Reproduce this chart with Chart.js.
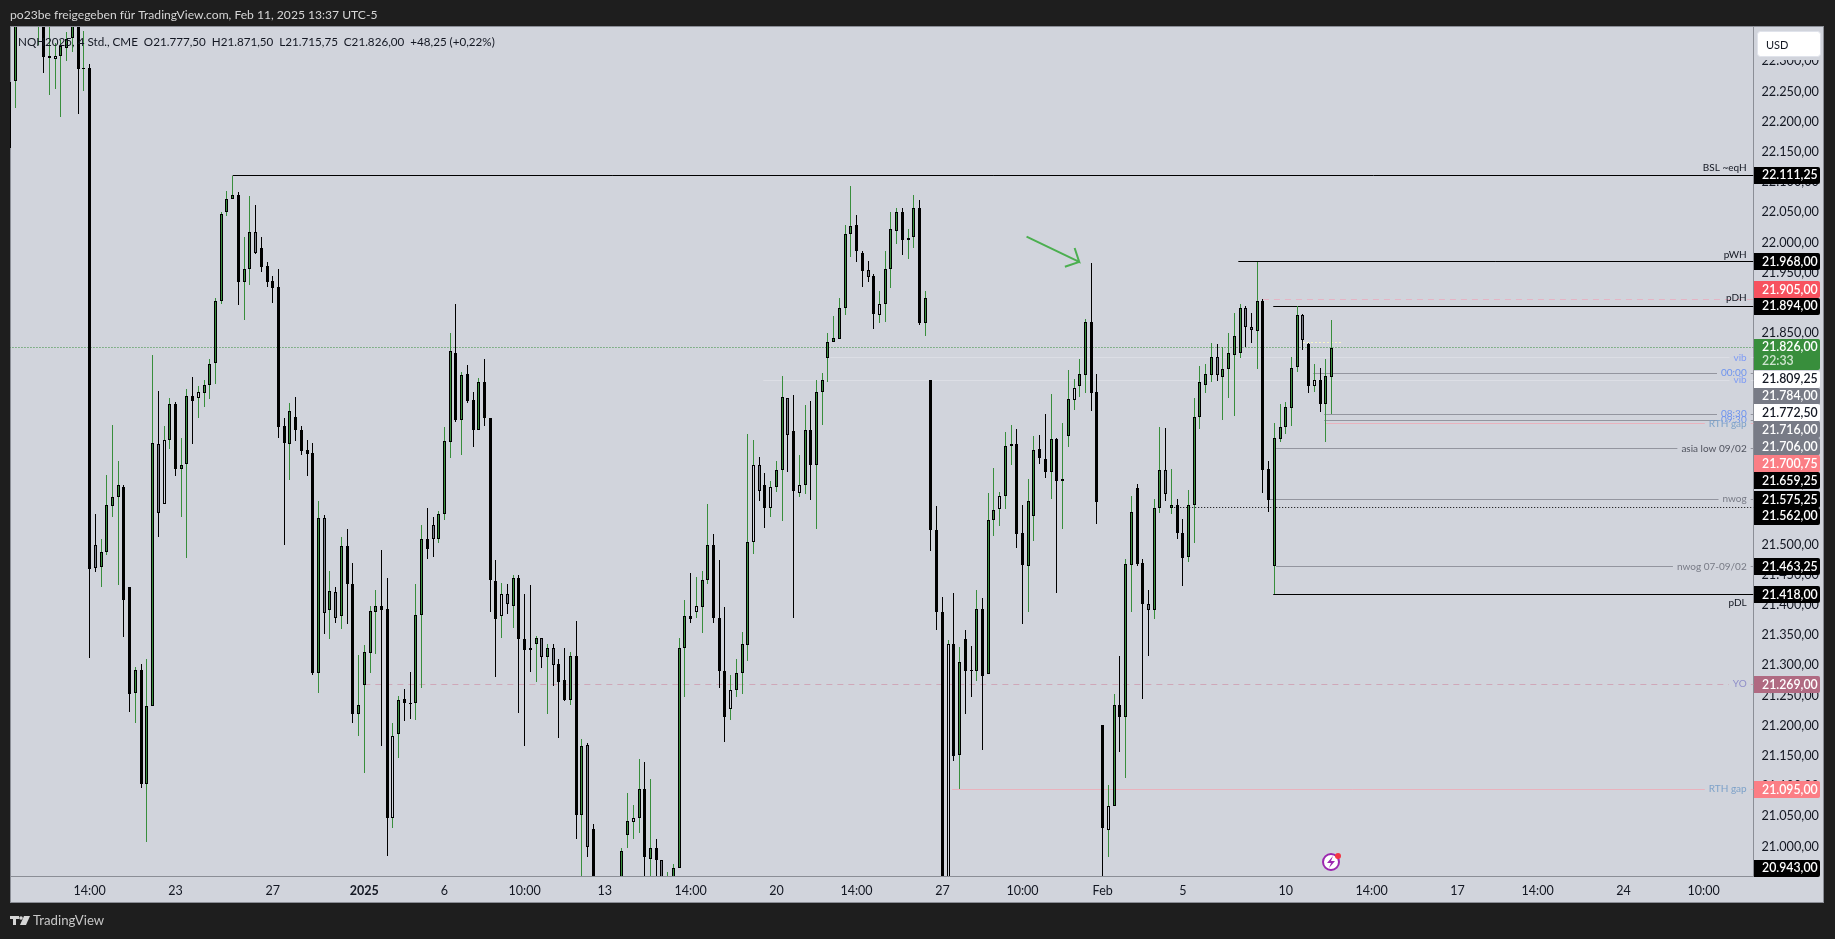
<!DOCTYPE html>
<html>
<head>
<meta charset="utf-8">
<title>NQH2025</title>
<script src="https://cdn.jsdelivr.net/npm/chart.js@4/dist/chart.umd.min.js"></script>
<style>
html, body { margin: 0; padding: 0; background: #1e1e1e; overflow: hidden; }
canvas { display: block; }
</style>
</head>
<body>
<canvas id="chart" width="1835" height="939"></canvas>
<script>
// candles, left to right. null = bar sits completely outside the visible price range
const opens = [22266,22267,null,null,null,22365,22380,22306,22304,22309,22323,22338,22380,22287,
22289,21500,21463,21487,21564,21578,21596,21430,21255,21293,21104,21232,21666,21567,21674,21732,
21625,21633,21746,21743,21751,21765,21800,21904,22050,22073,22078,21934,21957,22017,21991,21962,
21936,21926,21696,21667,21711,21690,21656,21652,21288,21544,21391,21421,21381,21497,21434,21220,
21268,21321,21389,21398,21393,21048,21187,21244,21238,21238,21383,21510,21532,21510,21550,21670,
21818,21707,21782,21739,21690,21769,21710,21439,21381,21419,21399,21444,21343,21328,21335,21345,
21314,21328,21303,21275,21243,21316,21053,21169,21029,null,null,null,null,20900,21020,21041,21047,
21095,20980,20998,20977,20900,20900,20965,21328,21381,21389,21397,21441,21499,21378,21290,21227,
21259,21288,21334,21505,21632,21599,21561,21596,21624,21742,21688,21586,21599,21689,21631,21753,
21809,21835,21841,21891,22014,22029,21982,21954,21944,21880,21898,21956,22019,22050,22004,22009,
22058,21867,21773,21524,21389,20900,21335,21152,21343,21292,21290,21393,21285,21540,21559,21580,
21663,21666,21519,21464,21548,21658,21641,21620,21675,21606,21680,21740,21762,21781,21868,21753,
21201,21028,21068,21234,21215,21467,21593,21469,21401,21391,21560,21623,21561,21565,21519,21480,
21565,21711,21765,21781,21810,21778,21790,21814,21818,21891,21861,21854,21904,21625,21464,21675,
21695,21726,21794,21880,21832,21763,21772,21733,21777.5];
const closes = [22157,22400,null,null,null,22380,22307,22309,22309,22325,22337,22370,22288,22289,
21459,21462,21487,21565,21578,21598,21409,21253,21293,21104,21232,21668,21553,21674,21732,21625,
21631,21746,21737,21752,21765,21799,21904,22047,22073,22078,21934,21957,22017,21983,21960,21935,
21925,21695,21668,21721,21689,21655,21650,21288,21544,21387,21423,21379,21497,21435,21220,21234,
21323,21390,21398,21391,21048,21183,21242,21237,21236,21383,21510,21493,21510,21550,21671,21820,
21706,21780,21738,21690,21769,21710,21441,21376,21419,21401,21444,21344,21326,21326,21345,21314,
21328,21301,21273,21243,21316,21053,21167,20999,20900,null,null,null,null,20992,21043,21047,21095,
20982,20998,20977,20900,20930,20965,21328,21381,21376,21399,21441,21499,21379,21290,21214,21259,
21288,21335,21505,21632,21589,21561,21595,21624,21744,21682,21588,21599,21689,21631,21753,21773,
21835,21842,21891,22014,22027,21986,21953,21943,21881,21898,21956,22022,22050,22004,22007,22058,
21867,21908,21524,21389,20900,21335,21150,21305,21291,21291,21393,21283,21540,21558,21580,21663,
21666,21518,21467,21573,21656,21643,21621,21675,21606,21609,21741,21760,21782,21868,21751,21571,
21030,21067,21234,21215,21468,21554,21468,21401,21391,21560,21623,21583,21565,21520,21478,21565,
21711,21770,21782,21810,21780,21790,21817,21845,21891,21861,21855,21904,21624,21574,21676,21694,
21727,21792,21880,21838,21763,21772,21733,21779,21826];
const highs = [22266,22420,null,null,null,22400,22400,22380,22330,22335,22349,22390,22400,22351,
22296,21551,21509,21615,21698,21638,21599,21430,21297,21302,21310,21814,21754,21696,21743,21736,
21676,21758,21777,21763,21772,21807,21908,22051,22085,22111,22084,22009,22077,22062,22009,21968,
21945,21956,21709,21734,21744,21696,21674,21668,21572,21549,21456,21430,21513,21525,21470,21317,
21334,21398,21425,21491,21445,21205,21250,21261,21289,21435,21532,21560,21546,21556,21694,21850,
21898,21786,21797,21753,21775,21807,21710,21475,21437,21435,21449,21449,21419,21433,21349,21345,
21335,21335,21311,21328,21322,21373,21178,21172,21037,null,null,null,null,20997,21089,21069,21145,
21140,21112,21013,20977,20958,20972,21345,21408,21453,21447,21457,21568,21518,21475,21397,21284,
21311,21356,21683,21673,21645,21619,21605,21638,21779,21742,21748,21648,21731,21738,21772,21784,
21850,21878,21908,22029,22094,22045,21986,21970,21948,21920,21986,22051,22058,22058,22022,22079,
22071,21920,21773,21564,21413,21342,21420,21331,21358,21332,21425,21412,21586,21627,21587,21686,
21698,21692,21566,21609,21679,21681,21716,21749,21676,21701,21789,21774,21808,21873,21966,21782,
21201,21102,21253,21316,21476,21580,21600,21476,21425,21576,21695,21693,21625,21576,21542,21591,
21743,21795,21799,21833,21832,21827,21850,21883,21899,21895,21883,21968,21906,21638,21702,21733,
21736,21811,21895,21881,21833,21799,21792,21807,21871.5];
const lows = [22157,22223,null,null,null,22327,22281,22245,22254,22208,22301,22316,22213,22251,
21313,21455,21429,21483,21546,21433,21347,21223,21205,21097,21008,21232,21513,21567,21658,21614,
21546,21478,21667,21710,21728,21741,21766,21899,22044,22073,21896,21872,21929,21981,21952,21927,
21900,21677,21500,21607,21672,21648,21614,21284,21255,21352,21344,21371,21360,21369,21205,21183,
21122,21288,21319,21167,20985,21030,21146,21208,21212,21210,21263,21476,21479,21503,21541,21644,
21703,21648,21735,21662,21690,21697,21389,21281,21346,21385,21362,21222,21167,21289,21272,21295,
21219,21266,21179,21241,21235,21012,20930,20982,20890,null,null,null,null,20890,20998,21013,21023,
20930,20930,20930,20890,20890,20890,20965,21248,21371,21379,21354,21434,21371,21263,21173,21209,
21248,21252,21308,21484,21572,21528,21546,21587,21539,21621,21379,21579,21584,21574,21526,21698,
21770,21835,21841,21880,21976,21968,21927,21935,21857,21867,21869,21925,21997,21980,21973,21991,
21864,21846,21490,21359,20890,20890,21141,21095,21220,21248,21274,21160,21285,21514,21531,21559,
21631,21494,21368,21389,21506,21633,21611,21576,21420,21525,21662,21723,21744,21751,21721,21534,
20920,20982,21068,21157,21114,21389,21464,21244,21315,21376,21552,21573,21551,21510,21432,21471,
21503,21692,21751,21769,21771,21707,21742,21713,21809,21827,21834,21791,21585,21554,21418,21670,
21683,21697,21785,21822,21751,21753,21720,21670,21715.75];
// u up, d down, h up inside bar, g down inside bar
const barTypes = ("d u n n n u d u h u " +
"u u d u d g u u u u " + "d d u d u u g h u d " + "u u d h u u u u u u " +
"d u u g d d d d d u " + "d d d d u g u g u d " + "d u u u u d d h u d " +
"d u u d g u u u d u " + "d d u d d d h g u d " + "d d u g u g d d u d " +
"u g d n n n n u u h " + "u d u d g u u u u d " + "h u u d d d h u u u " +
"h g d h u u g d h u " + "d u u u u u u u d d " + "g d h u u u d u u d " +
"u d d d h d u d d u " + "d u u h u u d d u u " + "d d u d u u h u u d " +
"d d h u d u u d d g " + "u u g u d d u u u u " + "u g u u u u g g u d " +
"d u u u u u g d h d " + "u u").split(" ");

// horizontal levels drawn on the chart
const levelPrices = [22111.25,21968,21905,21894,21826,21809.25,21784,21772.5,21716,21706,21700.75,21659.25,21575.25,21562,21463.25,21418,21269,21095,21835];
const levelStarts = [39,214.7,219,220.8,0,143.4,227.8,131.7,229.7,229.7,230,221.3,220,203.5,221.3,220.8,62,164.7,226];
const levelTexts = ["BSL ~eqH","pWH","","pDH","","vib","00:00","vib","08:30","09:30","RTH gap","asia low 09/02","nwog","","nwog 07-09/02","pDL","YO","RTH gap",""];
const levelKinds = ["key","key","redDash","key","lastDot","white","gray","white","gray","gray","pink","gray","gray","blackDot","gray","key","yo","pink","yellowDot"];
const yellowDotEnd = 232.8;

// arrow that points at the Feb high
const arrowBars = [177.7,186.9,186.1,186.9,184.4];
const arrowPrices = [22010,21968,21991,21968,21960];

const yTicks = [21000,21050,21100,21150,21200,21250,21300,21350,21400,21450,21500,21550,21600,21650,21700,21750,21800,21850,21900,21950,22000,22050,22100,22150,22200,22250,22300];
const xTickBars = [14,29,46,62,76,90,104,119,134,148,163,177,191,205,223,238,253,267,282,296];
const xTickLabels = ["14:00","23","27","2025","6","10:00","13","14:00","20","14:00","27","10:00","Feb","5","10","14:00","17","14:00","24","10:00"];

// price tags on the right axis
const tagPrices = [22111.25,21968,21905,21894,21826,21809.25,21784,21772.5,21716,21706,21700.75,21659.25,21575.25,21562,21463.25,21418,21269,21095,20943];
const tagColors = ["#000000","#000000","#f7525f","#000000","#388e3c","#ffffff","#787b86","#ffffff","#787b86","#787b86","#fb7e85","#000000","#000000","#000000","#000000","#000000","#b06a82","#fb7e85","#000000"];
const countdown = "22:33";

const titleText = "po23be freigegeben für TradingView.com, Feb 11, 2025 13:37 UTC-5";
const legendText = "NQH2025, 4 Std., CME  O21.777,50  H21.871,50  L21.715,75  C21.826,00  +48,25 (+0,22%)";

const FONT = "Lato, 'Noto Sans', sans-serif";
const PANEL = "#d1d4dc";
const DARK = "#1e1e1e";
const GREEN = "#388e3c";
const priceFmt = new Intl.NumberFormat("de-DE", { minimumFractionDigits: 2, maximumFractionDigits: 2 });

const bodyColors = { u: GREEN, d: "#000000", h: PANEL, g: "#787b86" };
const wickColors = { u: GREEN, d: "#000000", h: GREEN, g: "#000000" };

const levelStyles = {
    key: { color: "#000000", dash: [] },
    redDash: { color: "#e5b4c4", dash: [6, 5] },
    lastDot: { color: GREEN, dash: [1, 2] },
    white: { color: "#dcdee5", dash: [] },
    gray: { color: "#93959f", dash: [] },
    pink: { color: "#e9b2bd", dash: [] },
    blackDot: { color: "#000000", dash: [1, 2] },
    yo: { color: "#cfa7b8", dash: [6, 5] },
    yellowDot: { color: "#f7f7c6", dash: [2, 2] }
};
const textColors = ["#131722","#131722","","#131722","","#7f9cf5","#6f94ee","#7f9cf5","#6f94ee","#6f94ee","#7ea2c9","#50535e","#787b86","","#787b86","#131722","#8f8fc9","#7ea2c9",""];
const tagY = [175,261.3,289.3,306,0,378.7,395.7,412.3,429.3,446.3,463.3,480.3,499.3,516,566.3,594.3,684.3,789.3,867.7];

const candleIdx = opens.map((o, i) => i).filter(i => opens[i] !== null);
const bodyData = candleIdx.map(i => ({ x: i, y: [opens[i], closes[i]], k: barTypes[i] }));
const wickData = candleIdx.map(i => ({ x: i, y: [lows[i], highs[i]], k: barTypes[i] }));

const X_MIN = 0.0926, X_MAX = 304.71;
const levelDatasets = levelPrices.map((p, i) => {
    const st = levelStyles[levelKinds[i]];
    const end = levelKinds[i] === "yellowDot" ? yellowDotEnd : X_MAX;
    return {
        type: "line",
        order: 3,
        data: [{ x: levelStarts[i], y: p }, { x: end, y: p }],
        borderColor: st.color,
        borderDash: st.dash,
        borderWidth: 1,
        pointRadius: 0,
        tension: 0
    };
});

// keeps bars and levels on whole pixels so they stay crisp like the original
const snapPlugin = {
    id: "snap",
    afterDatasetsUpdate(chart) {
        chart.data.datasets.forEach((ds, n) => {
            const meta = chart.getDatasetMeta(n);
            if (ds.noSnap) return;
            meta.data.forEach(el => {
                if (ds.type === "line") {
                    el.y = Math.floor(el.y) + 0.5;
                } else {
                    el.x = Math.floor(el.x) + 0.5;
                    const top = Math.round(Math.min(el.y, el.base));
                    let bottom = Math.round(Math.max(el.y, el.base));
                    if (bottom - top < 1) bottom = top + 1;
                    el.y = top;
                    el.base = bottom;
                }
            });
        });
    }
};

const framePlugin = {
    id: "frame",
    beforeDraw(chart) {
        const ctx = chart.ctx;
        ctx.save();
        ctx.fillStyle = DARK;
        ctx.fillRect(0, 0, 1835, 939);
        ctx.fillStyle = PANEL;
        ctx.fillRect(10, 27, 1814, 876);
        ctx.strokeStyle = "#8b8e96";
        ctx.lineWidth = 1;
        ctx.strokeRect(10.5, 26.5, 1813, 876);
        ctx.restore();
    }
};

const labelsPlugin = {
    id: "labels",
    afterDatasetsDraw(chart) {
        const ctx = chart.ctx, y = chart.scales.y;
        ctx.save();
        ctx.font = "10px " + FONT;
        ctx.textAlign = "right";
        ctx.textBaseline = "middle";
        levelTexts.forEach((t, i) => {
            if (!t) return;
            const py = y.getPixelForValue(levelPrices[i]);
            const w = ctx.measureText(t).width;
            const rx = 1746.7;
            let ty = py;
            if (t === "BSL ~eqH") ty = py - 8;
            else if (t === "pWH") ty = py - 7;
            else if (t === "pDH") ty = py - 9;
            else if (t === "pDL") ty = py + 9;
            else {
                ctx.fillStyle = PANEL;
                ctx.fillRect(rx - w - 4, py - 1, w + 8, 3);
            }
            ctx.fillStyle = textColors[i];
            ctx.fillText(t, rx, ty);
        });
        // legend row lies over the candles
        ctx.textAlign = "left";
        ctx.font = "11.65px " + FONT;
        ctx.fillStyle = "#131722";
        ctx.fillText(legendText, 18, 42);
        ctx.restore();
    }
};

function roundedTag(ctx, x, y, w, h) {
    ctx.beginPath();
    ctx.roundRect(x, y, w, h, [0, 2, 2, 0]);
    ctx.fill();
}

const tagsPlugin = {
    id: "tags",
    afterDraw(chart) {
        const ctx = chart.ctx;
        ctx.save();
        // USD button, its margin hides the top tick
        ctx.fillStyle = PANEL;
        ctx.fillRect(1755, 28, 68, 32);
        ctx.fillStyle = "#ffffff";
        ctx.strokeStyle = "#e0e3eb";
        ctx.beginPath();
        ctx.roundRect(1757.5, 31.5, 63, 25, 3);
        ctx.fill();
        ctx.stroke();
        ctx.fillStyle = "#131722";
        ctx.font = "11px " + FONT;
        ctx.textAlign = "left";
        ctx.textBaseline = "middle";
        ctx.fillText("USD", 1766, 45);

        ctx.font = "600 12.3px " + FONT;
        tagPrices.forEach((p, i) => {
            const c = tagColors[i];
            ctx.fillStyle = c;
            if (p === 21826) {
                roundedTag(ctx, 1754, 339, 66, 31);
                ctx.fillStyle = "#ffffff";
                ctx.fillText(priceFmt.format(p), 1762, 347);
                ctx.fillStyle = "#cfe5d0";
                ctx.fillText(countdown, 1762, 361);
                return;
            }
            roundedTag(ctx, 1754, Math.round(tagY[i]) - 8, 66, 17);
            ctx.fillStyle = c === "#ffffff" ? "#131722" : "#ffffff";
            ctx.fillText(priceFmt.format(p), 1762, tagY[i] + 0.5);
        });

        // lightning badge
        ctx.beginPath();
        ctx.arc(1331, 862, 8, 0, Math.PI * 2);
        ctx.fillStyle = "#ffffff";
        ctx.fill();
        ctx.lineWidth = 2;
        ctx.strokeStyle = "#9c27b0";
        ctx.stroke();
        ctx.beginPath();
        ctx.moveTo(1333, 856);
        ctx.lineTo(1327, 863);
        ctx.lineTo(1331, 863);
        ctx.lineTo(1329, 868);
        ctx.lineTo(1335, 861);
        ctx.lineTo(1331, 861);
        ctx.closePath();
        ctx.fillStyle = "#9c27b0";
        ctx.fill();
        ctx.beginPath();
        ctx.arc(1338, 856, 3, 0, Math.PI * 2);
        ctx.fillStyle = "#f23645";
        ctx.fill();

        // title bar and footer
        ctx.fillStyle = "#d6d6d6";
        ctx.font = "12.1px " + FONT;
        ctx.fillText(titleText, 10, 15);
        ctx.font = "13.2px " + FONT;
        ctx.fillStyle = "#c8c8c8";
        ctx.fillText("TradingView", 33, 921);
        ctx.fillStyle = "#d6d6d6";
        ctx.fillRect(10, 916, 9, 3);
        ctx.fillRect(13, 916, 3, 9);
        ctx.beginPath();
        ctx.arc(21, 918, 1.8, 0, Math.PI * 2);
        ctx.fill();
        ctx.beginPath();
        ctx.moveTo(24, 916);
        ctx.lineTo(30, 916);
        ctx.lineTo(26, 925);
        ctx.lineTo(20, 925);
        ctx.closePath();
        ctx.fill();
        ctx.restore();
    }
};

new Chart(document.getElementById("chart"), {
    type: "bar",
    data: {
        datasets: [
            {
                type: "line",
                order: -1,
                noSnap: true,
                data: arrowBars.map((b, i) => ({ x: b, y: arrowPrices[i] })),
                borderColor: "#4caf50",
                borderWidth: 2,
                pointRadius: 0,
                tension: 0
            },
            {
                order: 0,
                grouped: false,
                data: bodyData,
                maxBarThickness: 3,
                borderWidth: 1,
                borderSkipped: false,
                borderColor: "#000000",
                backgroundColor: c => bodyColors[c.raw ? c.raw.k : "d"]
            },
            {
                order: 1,
                grouped: false,
                data: wickData,
                maxBarThickness: 1,
                borderWidth: 0,
                backgroundColor: c => wickColors[c.raw ? c.raw.k : "d"]
            },
            ...levelDatasets
        ]
    },
    options: {
        responsive: false,
        animation: false,
        events: [],
        layout: { padding: { left: 10, top: 27, right: 11, bottom: 36 } },
        plugins: { legend: { display: false }, tooltip: { enabled: false } },
        scales: {
            x: {
                type: "linear",
                offset: false,
                min: X_MIN,
                max: X_MAX,
                grid: { display: false, drawTicks: false },
                border: { display: true, color: "#8b8e96" },
                afterFit: s => { s.height = 27; },
                afterBuildTicks: s => { s.ticks = xTickBars.map(value => ({ value })); },
                ticks: {
                    autoSkip: false,
                    maxRotation: 0,
                    padding: 7,
                    color: "#131722",
                    font: c => ({ family: FONT, size: 12.5, weight: c.tick && c.tick.value === 62 ? "bold" : "normal" }),
                    callback: v => xTickLabels[xTickBars.indexOf(v)]
                }
            },
            y: {
                type: "linear",
                position: "right",
                min: 20951.32,
                max: 22356.95,
                grid: { display: false, drawTicks: false },
                border: { display: true, color: "#8b8e96" },
                afterFit: s => { s.width = 70.5; },
                afterBuildTicks: s => { s.ticks = yTicks.map(value => ({ value })); },
                ticks: {
                    autoSkip: false,
                    padding: 8,
                    color: "#131722",
                    font: { family: FONT, size: 12.7 },
                    callback: v => priceFmt.format(v)
                }
            }
        }
    },
    plugins: [framePlugin, snapPlugin, labelsPlugin, tagsPlugin]
});
</script>
</body>
</html>
